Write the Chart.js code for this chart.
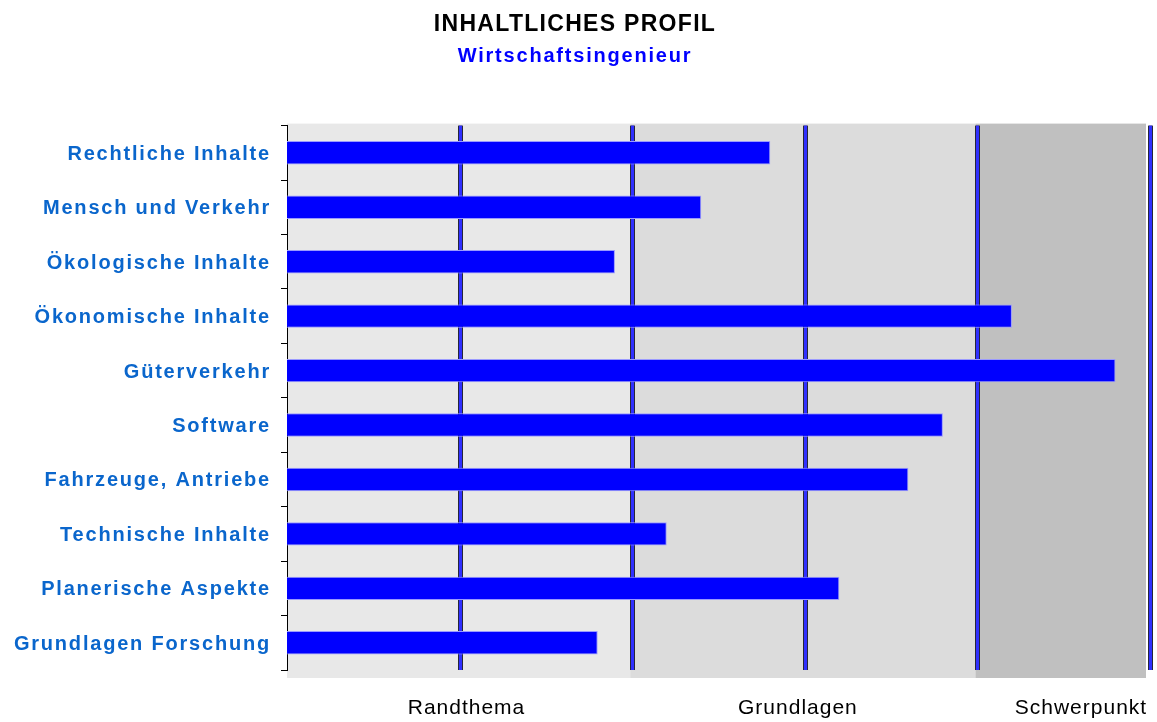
<!DOCTYPE html>
<html>
<head>
<meta charset="utf-8">
<script src="https://cdn.jsdelivr.net/npm/chart.js@4.4.1/dist/chart.umd.min.js"></script>
<style>
  html, body { margin: 0; padding: 0; background: #ffffff; }
  #wrap { width: 1157px; height: 722px; }
</style>
</head>
<body>
<div id="wrap"><canvas id="c" width="1157" height="722"></canvas></div>
<script>
// ---- data ----
const categories = [
  'Rechtliche Inhalte',
  'Mensch und Verkehr',
  'Ökologische Inhalte',
  'Ökonomische Inhalte',
  'Güterverkehr',
  'Software',
  'Fahrzeuge, Antriebe',
  'Technische Inhalte',
  'Planerische Aspekte',
  'Grundlagen Forschung'
];
const values = [2.8, 2.4, 1.9, 4.2, 4.8, 3.8, 3.6, 2.2, 3.2, 1.8];
const levelLabels = ['Randthema', 'Grundlagen', 'Schwerpunkt'];
const levelTickValues = [1.04, 2.96, 4.6];
const gridValues = [1, 2, 3, 4, 5];
const bandEdges = [0, 2, 4, 5];
const titleText = 'INHALTLICHES PROFIL';
const subtitleText = 'Wirtschaftsingenieur';

// ---- styles ----
const bandColors = ['#e8e8e8', '#dcdcdc', '#c0c0c0'];
const FONT = "'Liberation Sans', Arial, sans-serif";

const canvas = document.getElementById('c');
const ctx = canvas.getContext('2d');

// letter spacing per font size (canvas letterSpacing)
const spacingBySize = { '23': '1.3px', '20': '1.8px', '21': '1px' };
function applySpacing(c) {
  const m = /(\d+(?:\.\d+)?)px/.exec(c.font || '');
  const sp = m && spacingBySize[m[1]] ? spacingBySize[m[1]] : '0px';
  if ('letterSpacing' in c) c.letterSpacing = sp;
}
const protoFill = CanvasRenderingContext2D.prototype.fillText;
const protoMeasure = CanvasRenderingContext2D.prototype.measureText;
ctx.fillText = function (t, x, y, w) {
  applySpacing(this);
  return w === undefined ? protoFill.call(this, t, x, y) : protoFill.call(this, t, x, y, w);
};
ctx.measureText = function (t) {
  applySpacing(this);
  return protoMeasure.call(this, t);
};

const backgroundPlugin = {
  id: 'bands',
  beforeDraw(chart) {
    const { ctx: g, chartArea: a, scales } = chart;
    const xs = scales.x;
    g.save();
    for (let i = 0; i < bandColors.length; i++) {
      const x0 = xs.getPixelForValue(bandEdges[i]) - (i === 0 ? 0 : 2);
      const x1 = xs.getPixelForValue(bandEdges[i + 1]) - (i === bandColors.length - 1 ? 4 : 2);
      g.fillStyle = bandColors[i];
      g.fillRect(x0, a.top - 2, x1 - x0, a.bottom - a.top + 10);
    }
    // vertical level lines
    gridValues.forEach(v => {
      const px = Math.round(xs.getPixelForValue(v));
      g.fillStyle = '#26263a';
      g.fillRect(px - 2, a.top, 5, a.bottom - a.top);
      g.fillStyle = '#3030ff';
      g.fillRect(px - 1, a.top, 3, a.bottom - a.top);
    });
    g.restore();
  }
};

new Chart(ctx, {
  type: 'bar',
  data: {
    labels: categories,
    datasets: [{
      data: values,
      backgroundColor: '#0000ff',
      borderColor: '#9a9aff',
      borderWidth: 1,
      borderSkipped: 'start',
      categoryPercentage: 1,
      barPercentage: 0.43
    }]
  },
  options: {
    indexAxis: 'y',
    responsive: false,
    devicePixelRatio: 1,
    animation: false,
    layout: { padding: { left: 0, right: 7, top: 0, bottom: 0 } },
    plugins: {
      legend: { display: false },
      tooltip: { enabled: false },
      title: {
        display: true,
        text: titleText,
        color: '#000000',
        font: { family: FONT, size: 23, weight: 'bold', lineHeight: 1.2 },
        padding: { top: 11, bottom: 0 }
      },
      subtitle: {
        display: true,
        text: subtitleText,
        color: '#0000ff',
        font: { family: FONT, size: 20, weight: 'bold', lineHeight: 1.2 },
        padding: { top: 6, bottom: 57 }
      }
    },
    scales: {
      x: {
        type: 'linear',
        min: 0,
        max: 5,
        grid: {
          display: true,
          drawOnChartArea: false,
          drawTicks: true,
          tickLength: 26,
          color: 'rgba(0,0,0,0)'
        },
        border: { display: false },
        afterBuildTicks(scale) {
          scale.ticks = levelTickValues.map(v => ({ value: v }));
        },
        afterFit(scale) { scale.height = 52; },
        ticks: {
          autoSkip: false,
          maxRotation: 0,
          padding: 0,
          color: '#000000',
          font: { family: FONT, size: 21 },
          callback(value, index) { return levelLabels[index]; }
        }
      },
      y: {
        grid: {
          offset: true,
          drawOnChartArea: false,
          color: '#000000',
          tickLength: 6,
          lineWidth: 1
        },
        border: { display: true, color: '#000000', width: 1 },
        afterFit(scale) { scale.width = 287; },
        ticks: {
          padding: 10,
          labelOffset: 1.5,
          color: '#0a66cc',
          font: { family: FONT, size: 20, weight: 'bold' }
        }
      }
    }
  },
  plugins: [backgroundPlugin]
});
</script>
</body>
</html>
